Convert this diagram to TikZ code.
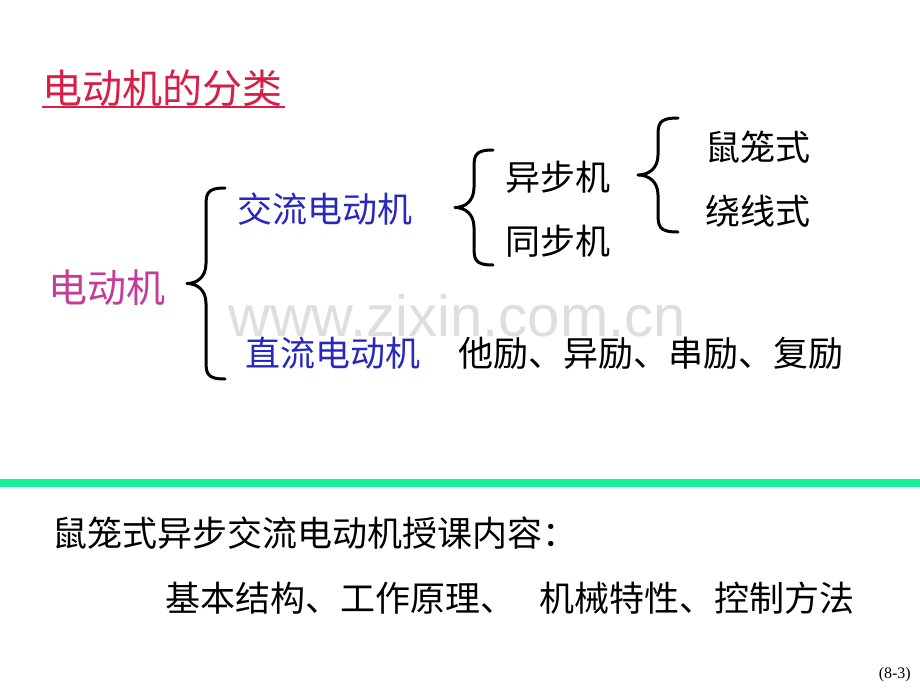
\documentclass[tikz,border=0pt]{standalone}
\usepackage{fontspec}
\setmainfont{Liberation Serif}
\newfontfamily\cjk{Noto Sans CJK SC}
\newfontfamily\marksans{Liberation Sans}
\usetikzlibrary{positioning}
\definecolor{titlered}{RGB}{215,30,70}
\definecolor{rootpink}{RGB}{195,60,150}
\definecolor{kindblue}{RGB}{40,40,190}
\definecolor{rulegreen}{RGB}{25,240,155}
\definecolor{markgray}{RGB}{222,222,222}
\tikzset{
    txt/.style={inner sep=0pt, anchor=west, font=\cjk\fontsize{35}{40}\selectfont},
    bracestroke/.style={line width=3pt, line cap=round, line join=round}
}
% #1 = tip x, #2 = top y, #3 = bottom y, #4 = width
\newcommand\bracel[4]{
    \draw[bracestroke] ({#1+#4},#2) .. controls ({#1+0.5*#4},#2) and ({#1+0.5*#4},{#2+6}) .. ({#1+0.5*#4},{#2+20})
    -- ({#1+0.5*#4},{(#2+#3)/2-20}) .. controls ({#1+0.5*#4},{(#2+#3)/2-6}) and ({#1+0.25*#4},{(#2+#3)/2}) .. (#1,{(#2+#3)/2})
    .. controls ({#1+0.25*#4},{(#2+#3)/2}) and ({#1+0.5*#4},{(#2+#3)/2+6}) .. ({#1+0.5*#4},{(#2+#3)/2+20})
    -- ({#1+0.5*#4},{#3-20}) .. controls ({#1+0.5*#4},{#3-6}) and ({#1+0.5*#4},#3) .. ({#1+#4},#3);
}

\begin{document}
\begin{tikzpicture}[x=1pt,y=-1pt]
        \useasboundingbox[fill=white] (0,0) rectangle (920,690);
        % watermark
        \node[inner sep=0pt, anchor=base west, text=markgray, font=\marksans\fontsize{58}{60}\selectfont] (mark) at (228,336) {www.zixin.com.cn};
        % title
        \node[txt, text=titlered, font=\cjk\fontsize{40}{44}\selectfont] (title) at (42,88) {电动机的分类};
        \draw[titlered, line width=1.6pt] (42,107) -- (285,107);
        % tree
        \node[txt, text=rootpink, font=\cjk\fontsize{39}{44}\selectfont] (root) at (48,288) {电动机};
        \node[txt, text=kindblue] (ac) at (237,209) {交流电动机};
        \node[txt, text=kindblue] (dc) at (245,353) {直流电动机};
        \node[txt] (dckind) at (458,353) {他励、异励、串励、复励};
        \node[txt] (async) at (505,177) {异步机};
        \node[txt] (sync) at (505,241) {同步机};
        \node[txt] (cage) at (705,147) {鼠笼式};
        \node[txt] (wound) at (705,211) {绕线式};
        \bracel{187}{188}{379}{38}
        \bracel{455}{150}{265}{38}
        \bracel{638}{118}{232}{40}
        % divider
        \draw[rulegreen, line width=8pt] (0,483) -- (920,483);
        % course
        \node[txt] (course) at (52,533) {鼠笼式异步交流电动机授课内容：};
        \node[txt] (topics) at (165,598) {基本结构、工作原理、\hspace{0.7em}机械特性、控制方法};
        \node[inner sep=0pt, anchor=east, font=\fontsize{16}{18}\selectfont] (page) at (911,675) {(8-3)};
        \end{tikzpicture}
\end{document}
